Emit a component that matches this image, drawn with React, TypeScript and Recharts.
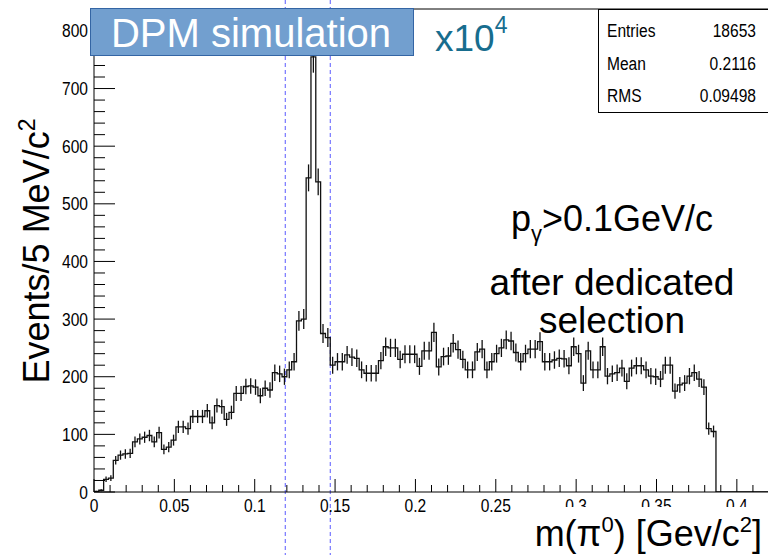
import React from 'react';
import { ComposedChart, Line, Scatter, ErrorBar, XAxis, YAxis, ReferenceLine } from 'recharts';

// Histogram binning: 140 bins of 3 MeV/c^2 from 0 to 0.42 GeV/c^2
const BIN_WIDTH = 0.003;
const X_MAX = 0.42;
const Y_MAX = 838;

// Bin contents of the pi0 invariant-mass spectrum
const COUNTS = [
  1, 3, 22, 24, 55, 64, 66, 67, 87, 92,
  95, 98, 87, 103, 74, 78, 90, 113, 113, 110,
  131, 131, 131, 141, 120, 150, 148, 126, 138, 171,
  171, 183, 184, 182, 167, 180, 177, 207, 205, 200,
  212, 226, 297, 300, 545, 755, 538, 275, 268, 220,
  226, 226, 238, 234, 232, 212, 206, 206, 206, 228,
  252, 250, 250, 230, 239, 239, 239, 218, 245, 245,
  277, 217, 235, 236, 258, 247, 230, 212, 212, 243,
  248, 212, 226, 240, 250, 264, 262, 242, 226, 240,
  248, 248, 261, 226, 226, 229, 232, 231, 219, 252,
  240, 189, 245, 212, 212, 252, 201, 205, 207, 215,
  192, 215, 219, 219, 212, 201, 200, 196, 220, 220,
  175, 186, 189, 201, 207, 196, 182, 110, 105,
  0, 0, 0, 0, 0, 0, 0, 0, 0, 0, 0,
];

// Signal window (dashed markers)
const WINDOW_LOW = 0.119;
const WINDOW_HIGH = 0.147;

// Axis ticks: minor every 0.01 / 20 events, labels on the majors
const X_TICKS = Array.from({ length: 43 }, (_, i) => i / 100);
const Y_TICKS = Array.from({ length: 42 }, (_, i) => i * 20);

const STATS: [string, string][] = [
  ['Entries', '18653'],
  ['Mean', '0.2116'],
  ['RMS', '0.09498'],
];

const stepData = COUNTS.map((c, i) => ({ x: +(i * BIN_WIDTH).toFixed(4), y: c })).concat([{ x: X_MAX, y: 0 }]);
const errData = COUNTS.map((c, i) => ({ x: (i + 0.5) * BIN_WIDTH, y: c, e: Math.sqrt(c) })).filter((d) => d.y > 0);

const SANS = "'Liberation Sans', Arial, sans-serif";
const TICK_MARGIN = 6;

// Condensed label text (horizontally squeezed sans)
const NarrowText = ({ x, y, anchor = 'start', size = 19, baseline, children }: any) => (
  <text
    transform={`translate(${x},${y}) scale(0.82,1)`}
    textAnchor={anchor}
    dominantBaseline={baseline}
    fontSize={size}
    fontFamily={SANS}
    fill="#000"
  >
    {children}
  </text>
);

const YTick = (props: any) => {
  const { x, y, payload } = props;
  const v = payload.value as number;
  const axisX = x + TICK_MARGIN;
  const major = v % 100 === 0;
  return (
    <g>
      <line x1={axisX} x2={axisX + (major ? 21 : 11)} y1={y} y2={y} stroke="#000" strokeWidth={1} />
      {major && (
        <NarrowText x={x} y={y} anchor="end" baseline="central">
          {v}
        </NarrowText>
      )}
    </g>
  );
};

const XTick = (props: any) => {
  const { x, y, payload } = props;
  const v = payload.value as number;
  const axisY = y - TICK_MARGIN;
  const major = Math.round(v * 100) % 5 === 0;
  return (
    <g>
      <line x1={x} x2={x} y1={axisY} y2={axisY - (major ? 13 : 7)} stroke="#000" strokeWidth={1} />
      {major && (
        <NarrowText x={x} y={y + 14} anchor="middle">
          {String(v)}
        </NarrowText>
      )}
    </g>
  );
};

const windowLine = (p: any) => (
  <line x1={p.x1} x2={p.x1} y1={0} y2={555} stroke="#5a5aff" strokeWidth={1} strokeDasharray="4 3" />
);

export default function App() {
  return (
    <div style={{ position: 'absolute', left: 0, top: 0, width: 768, height: 555, overflow: 'hidden', background: '#fff' }}>
      <ComposedChart width={770} height={555} margin={{ top: 9, right: 1, bottom: 0, left: 0 }}>
        <XAxis
          type="number"
          dataKey="x"
          domain={[0, X_MAX]}
          ticks={X_TICKS}
          interval={0}
          tickSize={0}
          tickMargin={TICK_MARGIN}
          tick={XTick}
          height={63}
          allowDataOverflow
          axisLine={{ stroke: '#000' }}
        />
        <YAxis
          type="number"
          domain={[0, Y_MAX]}
          ticks={Y_TICKS}
          interval={0}
          tickSize={0}
          tickMargin={TICK_MARGIN}
          tick={YTick}
          width={94}
          allowDataOverflow
          axisLine={{ stroke: '#000' }}
        />
        <ReferenceLine y={Y_MAX} stroke="#000" />
        <ReferenceLine x={X_MAX} stroke="#000" />
        <ReferenceLine x={WINDOW_LOW} shape={windowLine} />
        <ReferenceLine x={WINDOW_HIGH} shape={windowLine} />
        <Line
          data={stepData}
          dataKey="y"
          type="stepAfter"
          stroke="#111"
          strokeWidth={1.3}
          dot={false}
          activeDot={false}
          isAnimationActive={false}
        />
        <Scatter data={errData} dataKey="y" shape={() => <g />} isAnimationActive={false}>
          <ErrorBar dataKey="e" direction="y" width={0} stroke="#111" strokeWidth={1.3} isAnimationActive={false} />
        </Scatter>
      </ComposedChart>

      <svg width={768} height={555} style={{ position: 'absolute', left: 0, top: 0, pointerEvents: 'none' }}>
        {/* banner */}
        <rect x={90.5} y={8.5} width={323} height={47} fill="#729fcf" stroke="#3465a4" />
        <text x={251} y={47} textAnchor="middle" fill="#fff" fontSize={40} fontFamily={SANS}>
          DPM simulation
        </text>
        <text x={435} y={51} fill="#176d8e" fontSize={37} fontFamily={SANS}>
          x10
          <tspan dy={-18} fontSize={23}>4</tspan>
        </text>

        {/* statistics box */}
        <rect x={598.5} y={9.5} width={175} height={103} fill="#fff" stroke="#000" />
        {STATS.map(([k, v], i) => (
          <g key={k}>
            <NarrowText x={607} y={37 + i * 32.5}>
              {k}
            </NarrowText>
            <NarrowText x={756} y={37 + i * 32.5} anchor="end">
              {v}
            </NarrowText>
          </g>
        ))}

        {/* cut annotations */}
        <text x={612} y={231} textAnchor="middle" fontSize={36} fontFamily={SANS} fill="#000">
          p<tspan dy={10} fontSize={22}>γ</tspan>
          <tspan dy={-10}>&gt;0.1GeV/c</tspan>
        </text>
        <text x={612} y={295} textAnchor="middle" fontSize={37} fontFamily={SANS} fill="#000">
          after dedicated
        </text>
        <text x={612} y={333} textAnchor="middle" fontSize={37} fontFamily={SANS} fill="#000">
          selection
        </text>

        {/* axis titles */}
        <text transform="translate(49, 251) rotate(-90)" textAnchor="middle" fontSize={36} fontFamily={SANS} fill="#000">
          Events/5 MeV/c<tspan dy={-14} fontSize={23}>2</tspan>
        </text>
        <rect x={525} y={507} width={243} height={48} fill="#fff" />
        <text x={762} y={546} textAnchor="end" fontSize={36} fontFamily={SANS} fill="#000">
          m(π<tspan dy={-14} fontSize={22}>0</tspan>
          <tspan dy={14}>) [Gev/c</tspan>
          <tspan dy={-14} fontSize={22}>2</tspan>
          <tspan dy={14}>]</tspan>
        </text>
      </svg>
    </div>
  );
}
